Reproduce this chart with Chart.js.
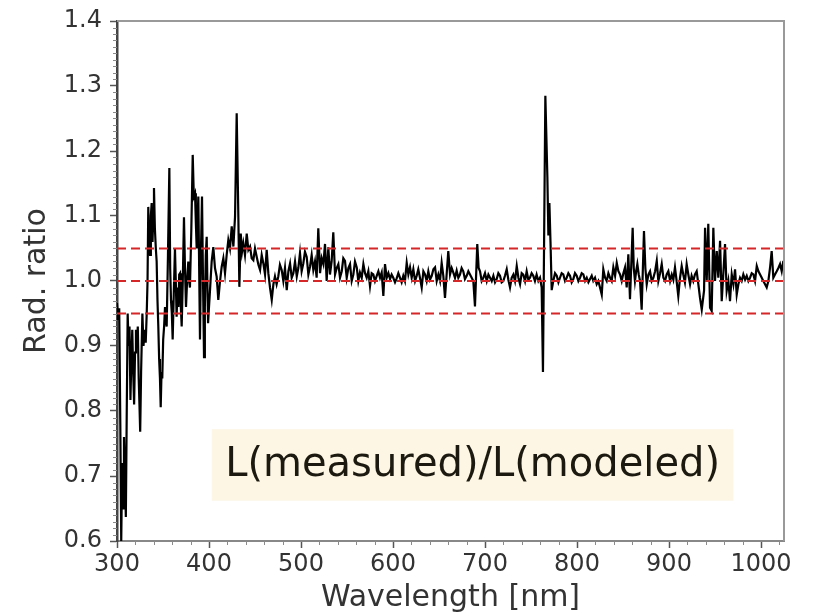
<!DOCTYPE html>
<html>
<head>
<meta charset="utf-8">
<script src="https://cdn.jsdelivr.net/npm/chart.js@4.4.1/dist/chart.umd.min.js"></script>
<style>
  html, body { margin: 0; padding: 0; background: #fff; }
  #wrap { width: 828px; height: 613px; position: relative; }
</style>
</head>
<body>
<div id="wrap"><canvas id="ratioChart"></canvas></div>
<script>
// wavelength [nm] and L(measured)/L(modeled)
var wavelength = [
  300.0, 301.2, 302.4, 303.6, 304.6, 305.6, 306.6, 307.6, 308.6, 309.6,
  310.6, 311.6, 312.6, 313.6, 314.6, 315.6, 316.6, 317.6, 318.6, 319.6,
  320.6, 321.6, 322.6, 323.6, 324.6, 325.2, 326.2, 327.6, 328.8, 330.0,
  331.2, 332.3, 333.2, 334.0, 335.0, 335.9, 336.8, 337.7, 338.6, 339.4,
  340.2, 341.2, 342.2, 343.1, 344.0, 344.9, 345.8, 346.7, 347.5, 348.4,
  349.2, 350.2, 351.2, 352.2, 353.1, 354.0, 355.4, 356.9, 357.8, 358.7,
  359.6, 360.5, 361.7, 363.0, 363.9, 364.8, 365.8, 366.8, 367.6, 368.5,
  369.4, 370.3, 371.5, 372.8, 373.9, 375.0, 376.2, 377.5, 378.4, 379.3,
  380.8, 382.3, 383.5, 384.8, 385.7, 386.6, 387.5, 388.4, 389.3, 390.2,
  391.3, 392.4, 393.5, 394.6, 395.5, 396.5, 397.5, 398.2, 399.0, 400.0,
  401.1, 402.9, 404.7, 406.5, 408.3, 409.2, 410.1, 412.0, 413.8, 415.6,
  417.4, 419.2, 421.0, 422.8, 424.7, 426.5, 428.3, 430.1, 431.9, 433.0,
  434.5, 435.9, 437.3, 439.1, 441.0, 442.8, 444.6, 446.4, 448.2, 450.0,
  451.9, 453.7, 455.5, 457.3, 459.1, 460.9, 462.7, 464.5, 466.3, 468.2,
  470.0, 471.7, 473.5, 475.3, 477.1, 479.0, 480.8, 482.6, 484.5, 486.3,
  488.1, 489.9, 491.7, 493.5, 495.4, 497.1, 498.9, 500.7, 502.5, 504.3,
  506.2, 508.0, 509.8, 511.6, 513.4, 515.2, 517.0, 518.8, 520.7, 522.5,
  524.3, 526.1, 527.9, 529.7, 531.5, 533.3, 535.1, 537.0, 538.8, 540.6,
  542.4, 544.3, 546.0, 547.8, 549.7, 551.5, 553.3, 555.1, 556.9, 558.7,
  560.6, 562.3, 564.1, 566.0, 567.8, 569.6, 571.4, 573.2, 575.0, 576.8,
  578.6, 580.4, 582.3, 584.1, 585.9, 587.7, 589.5, 591.3, 593.2, 595.0,
  596.8, 598.5, 600.3, 602.2, 604.0, 605.8, 607.6, 609.4, 611.2, 613.0,
  614.9, 616.7, 618.5, 620.3, 622.1, 624.0, 625.8, 627.5, 629.3, 631.2,
  633.0, 634.8, 636.6, 638.4, 640.2, 642.1, 643.9, 645.7, 647.5, 649.3,
  651.1, 652.9, 654.7, 656.5, 658.3, 660.1, 662.0, 663.8, 665.6, 667.4,
  669.2, 671.0, 672.8, 674.6, 676.4, 678.2, 680.1, 681.9, 683.7, 685.5,
  687.3, 689.1, 691.6, 693.1, 694.6, 696.4, 698.2, 700.0, 701.9, 703.7,
  705.5, 707.3, 709.1, 710.9, 712.7, 714.5, 716.3, 718.1, 719.9, 721.7,
  723.6, 725.4, 727.2, 729.0, 730.8, 732.6, 734.5, 736.3, 738.1, 739.9,
  741.6, 743.5, 745.3, 747.1, 748.9, 750.7, 752.5, 754.3, 756.1, 758.0,
  759.8, 761.6, 763.0, 765.6, 767.8, 768.9, 770.0, 771.2, 772.5, 774.2,
  776.1, 778.0, 779.8, 781.5, 783.3, 785.1, 787.0, 788.8, 790.6, 792.4,
  794.2, 796.0, 797.8, 799.7, 801.5, 803.3, 805.1, 806.9, 808.8, 810.6,
  812.4, 814.2, 816.0, 817.7, 819.6, 821.4, 823.2, 825.0, 826.9, 828.6,
  830.5, 832.3, 834.1, 835.9, 837.7, 839.5, 841.4, 843.2, 845.0, 846.8,
  848.6, 850.4, 852.2, 854.0, 855.8, 857.6, 860.5, 861.7, 863.0, 864.3,
  865.6, 867.1, 868.5, 870.3, 872.8, 874.3, 875.8, 877.6, 879.4, 881.2,
  883.0, 884.9, 886.7, 888.4, 890.3, 892.1, 893.9, 895.7, 897.5, 899.3,
  901.2, 903.0, 904.7, 906.5, 908.3, 910.1, 912.0, 913.8, 915.5, 917.3,
  919.2, 921.0, 922.9, 924.6, 926.4, 928.2, 930.1, 931.9, 933.7, 935.6,
  938.1, 939.2, 941.0, 942.7, 944.6, 946.4, 948.2, 950.0, 951.9, 953.6,
  955.5, 957.3, 959.0, 960.9, 962.7, 964.5, 966.3, 968.2, 970.0, 971.8,
  973.6, 975.4, 977.2, 979.0, 980.8, 982.7, 984.5, 986.3, 988.1, 989.9,
  991.7, 993.5, 995.4, 997.2, 999.0, 1000.8, 1002.5, 1004.4, 1006.2, 1008.0,
  1009.8, 1011.6, 1013.4, 1015.2, 1017.1, 1018.9, 1020.7, 1022.5, 1024.3
];
var ratio = [
  0.966, 0.940, 0.958, 0.780, 0.600, 0.720, 0.650, 0.760, 0.700, 0.637,
  0.800, 0.950, 0.900, 0.930, 0.817, 0.880, 0.925, 0.860, 0.810, 0.890,
  0.925, 0.900, 0.930, 0.850, 0.800, 0.768, 0.860, 0.950, 0.900, 0.925,
  0.905, 0.950, 1.000, 1.114, 1.060, 1.040, 1.100, 1.120, 1.060, 1.100,
  1.143, 1.080, 1.050, 1.030, 0.970, 0.930, 0.880, 0.850, 0.806, 0.860,
  0.850, 0.910, 0.930, 0.960, 0.940, 0.930, 1.040, 1.174, 1.020, 0.970,
  0.950, 0.910, 0.980, 1.050, 1.000, 0.945, 0.990, 0.960, 1.010, 1.012,
  0.960, 0.930, 1.000, 1.098, 1.020, 0.960, 1.000, 1.030, 1.000, 0.990,
  1.080, 1.194, 1.130, 1.135, 1.090, 1.050, 1.090, 1.130, 1.020, 0.910,
  1.050, 1.130, 1.000, 0.883, 0.960, 1.040, 1.068, 1.000, 0.935, 0.960,
  0.986, 1.030, 1.052, 1.020, 1.007, 0.990, 0.971, 1.000, 1.022, 1.035,
  1.012, 1.040, 1.063, 1.050, 1.084, 1.053, 1.099, 1.258, 1.099, 0.991,
  1.073, 1.045, 1.058, 1.040, 1.073, 1.048, 1.053, 1.035, 1.032, 1.050,
  1.037, 1.025, 1.017, 1.040, 1.027, 1.010, 1.048, 1.012, 0.990, 0.971,
  0.995, 1.007, 0.995, 1.007, 1.025, 1.017, 1.000, 1.020, 0.986, 1.015,
  1.027, 1.005, 1.012, 1.030, 1.007, 1.020, 1.043, 1.015, 1.027, 1.045,
  1.037, 1.010, 1.022, 1.040, 1.017, 1.030, 1.005, 1.081, 1.012, 1.035,
  1.026, 1.057, 1.000, 1.052, 1.010, 1.030, 1.075, 1.010, 1.020, 1.026,
  1.005, 1.015, 1.035, 1.031, 1.005, 1.020, 1.026, 1.000, 1.010, 1.030,
  1.021, 1.000, 1.013, 1.005, 1.026, 1.012, 1.005, 1.015, 0.992, 1.012,
  1.010, 1.000, 1.008, 1.015, 1.005, 1.013, 0.977, 1.026, 1.005, 1.012,
  1.003, 1.010, 1.005, 0.998, 1.004, 1.012, 1.005, 0.998, 1.008, 1.000,
  1.028, 1.010, 1.021, 1.005, 1.018, 1.000, 1.008, 1.018, 1.005, 0.990,
  1.015, 1.010, 1.000, 1.015, 1.002, 1.008, 1.018, 1.021, 1.000, 1.010,
  1.000, 1.028, 1.008, 0.974, 1.010, 1.046, 1.010, 1.020, 1.013, 1.005,
  1.016, 1.005, 1.010, 1.020, 1.015, 1.003, 1.008, 1.015, 1.010, 1.005,
  1.000, 0.961, 1.057, 1.020, 1.015, 1.000, 1.005, 1.012, 1.000, 1.010,
  1.005, 1.000, 1.008, 0.998, 1.003, 1.012, 1.008, 0.998, 1.000, 1.008,
  1.018, 1.002, 0.990, 1.005, 1.010, 1.000, 1.023, 1.005, 0.995, 1.012,
  1.010, 1.000, 1.015, 1.002, 1.005, 1.012, 1.008, 1.000, 1.010, 1.000,
  1.005, 0.990, 0.860, 1.285, 1.160, 1.070, 1.120, 1.060, 0.986, 1.000,
  1.012, 1.008, 0.998, 1.005, 1.012, 1.010, 1.000, 1.005, 1.012, 1.008,
  0.998, 1.003, 1.012, 1.008, 1.000, 1.005, 1.012, 1.010, 1.000, 1.005,
  0.998, 1.003, 1.008, 1.000, 1.005, 0.995, 1.000, 0.990, 0.979, 1.018,
  1.005, 1.000, 1.012, 1.005, 1.000, 1.021, 1.008, 1.028, 1.015, 1.010,
  1.000, 1.012, 1.021, 0.990, 1.041, 0.972, 1.082, 1.020, 1.000, 1.015,
  1.026, 1.010, 1.000, 0.956, 1.077, 1.020, 0.995, 1.010, 1.015, 1.000,
  1.005, 1.015, 1.031, 1.000, 1.012, 1.026, 1.005, 1.000, 1.010, 1.015,
  1.000, 1.010, 1.002, 1.021, 1.000, 0.977, 1.005, 1.023, 1.010, 0.998,
  1.026, 1.010, 0.995, 1.008, 1.000, 1.010, 1.015, 0.995, 0.974, 0.956,
  0.985, 1.082, 1.000, 1.088, 0.959, 0.954, 1.082, 1.000, 1.046, 1.005,
  1.062, 0.969, 1.010, 1.057, 0.985, 1.000, 0.969, 1.010, 0.995, 1.018,
  0.979, 0.995, 1.005, 1.000, 1.010, 1.002, 1.008, 1.000, 1.005, 1.012,
  1.010, 1.000, 1.023, 1.015, 1.010, 1.005, 1.000, 0.995, 0.990, 1.000,
  1.020, 1.046, 1.005, 1.010, 1.015, 1.020, 1.026, 1.015, 1.031
];
var refLevels = [0.95, 1.0, 1.05];
var xTicks = [300, 400, 500, 600, 700, 800, 900, 1000];
var yTicks = [0.6, 0.7, 0.8, 0.9, 1.0, 1.1, 1.2, 1.3, 1.4];
var xRange = [300, 1025];
var yRange = [0.6, 1.4];
var noteText = 'L(measured)/L(modeled)';

var spectrum = wavelength.map(function (w, i) { return { x: w, y: ratio[i] }; });

var refSets = refLevels.map(function (lvl) {
    return {
        data: [{ x: xRange[0], y: lvl }, { x: xRange[1], y: lvl }],
        borderColor: '#d62728',
        borderWidth: 2,
        borderDash: [9, 5],
        pointRadius: 0,
        order: 1
    };
});

// minor ticks, top/right spines and the note box
var framePlugin = {
    id: 'frame',
    afterDatasetsDraw: function (chart) {
        var ctx = chart.ctx, xs = chart.scales.x, ys = chart.scales.y;
        var l = xs.getPixelForValue(403), r = xs.getPixelForValue(970);
        var t = ys.getPixelForValue(0.772), b = ys.getPixelForValue(0.662);
        ctx.save();
        ctx.fillStyle = '#fdf6e4';
        ctx.fillRect(l, t, r - l, b - t);
        ctx.fillStyle = '#1c1a10';
        ctx.font = '40px "Comic Sans MS", "DejaVu Sans", sans-serif';
        ctx.textAlign = 'center';
        ctx.textBaseline = 'middle';
        ctx.fillText(noteText, (l + r) / 2, (t + b) / 2 + 1);
        ctx.restore();
    },
    afterDraw: function (chart) {
        var ctx = chart.ctx, a = chart.chartArea;
        var xs = chart.scales.x, ys = chart.scales.y;
        ctx.save();
        ctx.strokeStyle = '#8a8a8a';
        ctx.lineWidth = 1;
        ctx.beginPath();
        for (var i = 60; i <= 140; i++) {
            if (i % 10 === 0) continue;
            var py = Math.round(ys.getPixelForValue(i / 100)) + 0.5;
            ctx.moveTo(a.left - 4, py);
            ctx.lineTo(a.left, py);
        }
        for (var w = 320; w < xRange[1]; w += 20) {
            if (w % 100 === 0) continue;
            var px = Math.round(xs.getPixelForValue(w)) + 0.5;
            ctx.moveTo(px, a.bottom);
            ctx.lineTo(px, a.bottom + 4);
        }
        ctx.stroke();
        ctx.strokeStyle = '#999';
        ctx.lineWidth = 2;
        ctx.beginPath();
        ctx.moveTo(a.left, a.top);
        ctx.lineTo(a.right, a.top);
        ctx.lineTo(a.right, a.bottom);
        ctx.stroke();
        ctx.restore();
    }
};

var tickFont = { family: 'DejaVu Sans', size: 24 };
var titleFont = { family: 'DejaVu Sans', size: 30, lineHeight: 1 };

var ctxr = document.getElementById('ratioChart').getContext('2d');
var chartRatio = new Chart(ctxr, {
    type: 'line',
    data: {
        datasets: [{
            data: spectrum,
            borderColor: '#000',
            borderWidth: 2.2,
            pointRadius: 0,
            tension: 0,
            order: 2
        }].concat(refSets)
    },
    options: {
        responsive: true,
        maintainAspectRatio: false,
        animation: false,
        events: [],
        layout: { padding: { left: 0, top: 21, right: 44, bottom: 0 } },
        plugins: { legend: { display: false }, tooltip: { enabled: false } },
        scales: {
            x: {
                type: 'linear',
                min: xRange[0],
                max: xRange[1],
                afterBuildTicks: function (s) { s.ticks = xTicks.map(function (v) { return { value: v }; }); },
                afterFit: function (s) { s.height = 72; s.paddingLeft = 0; s.paddingRight = 0; },
                grid: { drawOnChartArea: false, tickLength: 7, tickColor: '#555', tickWidth: 1.5 },
                border: { color: '#888', width: 2 },
                ticks: {
                    font: tickFont, color: '#333', padding: 2, maxRotation: 0, autoSkip: false,
                    callback: function (v) { return String(v); }
                },
                title: { display: true, text: 'Wavelength [nm]', font: titleFont, color: '#333', padding: 0 }
            },
            y: {
                min: yRange[0],
                max: yRange[1],
                afterBuildTicks: function (s) { s.ticks = yTicks.map(function (v) { return { value: v }; }); },
                afterFit: function (s) { s.width = 117; s.paddingTop = 0; s.paddingBottom = 0; },
                grid: { drawOnChartArea: false, tickLength: 7, tickColor: '#555', tickWidth: 1.5 },
                border: { color: '#444', width: 2.5 },
                ticks: {
                    font: tickFont, color: '#333', padding: 8, autoSkip: false,
                    callback: function (v) { return Number(v).toFixed(1); }
                },
                title: { display: true, text: 'Rad. ratio', font: titleFont, color: '#333', padding: { top: 22, bottom: 0 } }
            }
        }
    },
    plugins: [framePlugin]
});
</script>
</body>
</html>
